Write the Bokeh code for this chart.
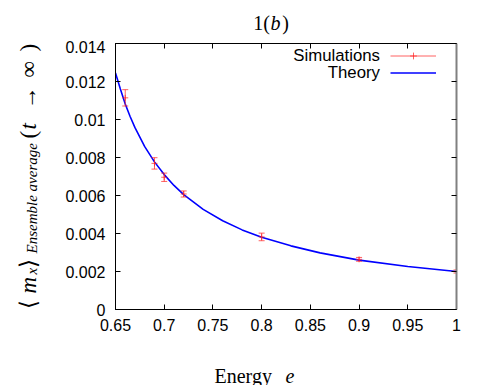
import math
from bokeh.plotting import figure
from bokeh.layouts import column, row
from bokeh.models import (Range1d, LinearAxis, FixedTicker, CustomJSTickFormatter,
                          Label, Legend, LegendItem, ColumnDataSource)
from bokeh.embed import file_html
from bokeh.resources import INLINE

# ---------------- data ----------------
e_sim = [0.66, 0.69, 0.70, 0.72, 0.80, 0.90, 1.00]
m_sim = [0.01114, 0.00769, 0.00696, 0.00608, 0.00382, 0.00264, 0.00200]
m_err = [0.00043, 0.00030, 0.00022, 0.00016, 0.00020, 0.00010, 0.00008]

e_theory = [0.65, 0.655, 0.66, 0.665, 0.67, 0.68, 0.69, 0.70, 0.71, 0.72,
            0.74, 0.76, 0.78, 0.80, 0.83, 0.86, 0.90, 0.95, 1.00]
m_theory = [0.01245, 0.01160, 0.01082, 0.01016, 0.00957, 0.00857, 0.00777,
            0.00710, 0.00653, 0.00605, 0.00527, 0.00467, 0.00419, 0.00380,
            0.00335, 0.00298, 0.00260, 0.00226, 0.00200]

x_ticks = [0.65, 0.7, 0.75, 0.8, 0.85, 0.9, 0.95, 1.0]
y_ticks = [0, 0.002, 0.004, 0.006, 0.008, 0.01, 0.012, 0.014]

legend_labels = ["Simulations", "Theory"]

SANS = "Liberation Sans"
SERIF = "Liberation Serif"

# ---------------- page layout (page pixels) ----------------
PW, PH = 491, 385
YL_W = 60           # y-label strip (full height, at the left)
TOP_H = 40          # title strip
BOT_H = 40          # x-label strip
CW = PW - YL_W      # width of the right-hand column
MID_H = PH - TOP_H - BOT_H
FRAME_L, FRAME_R, FRAME_T, FRAME_B = 115, 456, 43, 309

def text_strip(w, h):
    # frame covers the strip; its data units equal pixels
    f = figure(width=w, height=h, title=None, toolbar_location=None,
               output_backend="svg", x_axis_type=None, y_axis_type=None,
               min_border=0, x_range=Range1d(0, w), y_range=Range1d(0, h))
    f.outline_line_color = None
    f.grid.visible = False
    f.background_fill_color = "white"
    f.border_fill_color = "white"
    return f

ylab_fig = text_strip(YL_W, PH)
title_fig = text_strip(CW, TOP_H)
xlab_fig = text_strip(CW, BOT_H)

p = figure(width=CW, height=MID_H, title=None, toolbar_location=None,
           output_backend="svg",
           x_range=Range1d(0.65, 1.0), y_range=Range1d(0, 0.014),
           min_border_left=FRAME_L - YL_W, min_border_right=PW - FRAME_R,
           min_border_top=FRAME_T - TOP_H, min_border_bottom=TOP_H + MID_H - FRAME_B)
p.grid.visible = False
p.outline_line_color = "black"
p.outline_line_width = 1
p.background_fill_color = "white"
p.border_fill_color = "white"

fmt = CustomJSTickFormatter(code="return String(parseFloat(tick.toFixed(4)));")
blank = CustomJSTickFormatter(code="return '';")

def style_axis(ax, ticks, formatter, standoff, size="16px"):
    ax.ticker = FixedTicker(ticks=ticks)
    ax.formatter = formatter
    ax.major_tick_in = 5
    ax.major_tick_out = 0
    ax.minor_tick_line_color = None
    ax.axis_line_color = "black"
    ax.major_tick_line_color = "black"
    ax.major_label_text_font = SANS
    ax.major_label_text_font_size = size
    ax.major_label_text_color = "black"
    ax.major_label_standoff = standoff
    ax.axis_label = None

style_axis(p.xaxis[0], x_ticks, fmt, 9)
style_axis(p.yaxis[0], y_ticks, fmt, 10)

top_ax = LinearAxis()
style_axis(top_ax, x_ticks, blank, 0, "0px")
p.add_layout(top_ax, "above")
right_ax = LinearAxis()
style_axis(right_ax, y_ticks, blank, 0, "0px")
right_ax.axis_line_color = "#808080"
right_ax.axis_line_width = 2
p.add_layout(right_ax, "right")

# ---------------- data glyphs ----------------
lo = [m - d for m, d in zip(m_sim, m_err)]
hi = [m + d for m, d in zip(m_sim, m_err)]
src = ColumnDataSource(data=dict(e=e_sim, m=m_sim, lo=lo, hi=hi))

RED = "#ff2020"
theory_r = p.line(e_theory, m_theory, line_color="#0000ff", line_width=1.6)
bars = p.segment(x0="e", y0="lo", x1="e", y1="hi", source=src,
                 line_color=RED, line_width=1, line_alpha=0.7)
p.scatter(x="e", y="lo", source=src, marker="dash", size=6,
          line_color=RED, line_alpha=0.7)
p.scatter(x="e", y="hi", source=src, marker="dash", size=6,
          line_color=RED, line_alpha=0.7)
pts = p.scatter(x="e", y="m", source=src, marker="cross", size=6,
                line_color=RED, line_alpha=0.7)

# ---------------- legend (samples to the right of the text) ----------------
legend = Legend(items=[LegendItem(label=" ", renderers=[bars, pts]),
                       LegendItem(label=" ", renderers=[theory_r])],
                location=(390 - FRAME_L, FRAME_B - 80.5), padding=0, margin=0,
                spacing=0, glyph_width=46, glyph_height=17, label_width=0,
                label_height=17, label_standoff=0, label_text_font_size="1px",
                border_line_color=None, background_fill_alpha=0)
p.add_layout(legend)

def lab(fig, ox, oy_bottom, text, px, py, size, style="normal", angle=0.0,
        align="left", baseline="alphabetic", font=SERIF, units="screen"):
    """Place a text at page position (px, py); (ox, oy_bottom) is the page
    position of the figure frame's left / bottom edge."""
    fig.add_layout(Label(x=px - ox, y=oy_bottom - py, x_units=units, y_units=units,
                         text=text, text_font=font, text_font_size=f"{size}px",
                         text_font_style=style, text_color="black",
                         text_align=align, text_baseline=baseline, angle=angle))

# legend texts (inside the main frame)
lab(p, FRAME_L, FRAME_B, legend_labels[0], 379.5, 55, 16.8, align="right",
    baseline="middle", font=SANS)
lab(p, FRAME_L, FRAME_B, legend_labels[1], 379.5, 72.3, 16.8, align="right",
    baseline="middle", font=SANS)

# ---------------- title 1(b)  (strip frame is aligned with the plot frame) ----
lab(title_fig, FRAME_L, TOP_H, "1(", 252.7, 22, 20)
lab(title_fig, FRAME_L, TOP_H, "b", 270, 22, 20, style="italic")
lab(title_fig, FRAME_L, TOP_H, ")", 281.7, 22, 20)

# ---------------- x label: Energy e ----------------
lab(xlab_fig, FRAME_L, PH, "Energy", 214, 375, 20)
lab(xlab_fig, FRAME_L, PH, "e", 285, 375, 20, style="italic")

# ---------------- y label: <m_x>_{Ensemble average}(t -> inf) ----------------
R = math.pi / 2
BX, SBX = 28, 31
MS, SS = 23, 15
lab(ylab_fig, 0, PH, "\u27e8", BX, 308, MS, angle=R, units="data")
lab(ylab_fig, 0, PH, "m", BX, 293, MS, style="italic", angle=R, units="data")
lab(ylab_fig, 0, PH, "x", SBX, 274, SS, style="italic", angle=R, units="data")
lab(ylab_fig, 0, PH, "\u27e9", BX, 267, MS, angle=R, units="data")
lab(ylab_fig, 0, PH, "Ensemble average", SBX, 253, SS, style="italic", angle=R,
    units="data")
lab(ylab_fig, 0, PH, "(", BX, 138, MS, angle=R, units="data")
lab(ylab_fig, 0, PH, "t", BX, 129, MS, style="italic", angle=R, units="data")
lab(ylab_fig, 0, PH, "\u2192", BX, 109, MS, angle=R, units="data")
lab(ylab_fig, 0, PH, "\u221e", BX, 77, MS, angle=R, units="data")
lab(ylab_fig, 0, PH, ")", BX, 51, MS, angle=R, units="data")

layout = row(ylab_fig, column(title_fig, p, xlab_fig))
open("out.html", "w").write(file_html(layout, INLINE))
